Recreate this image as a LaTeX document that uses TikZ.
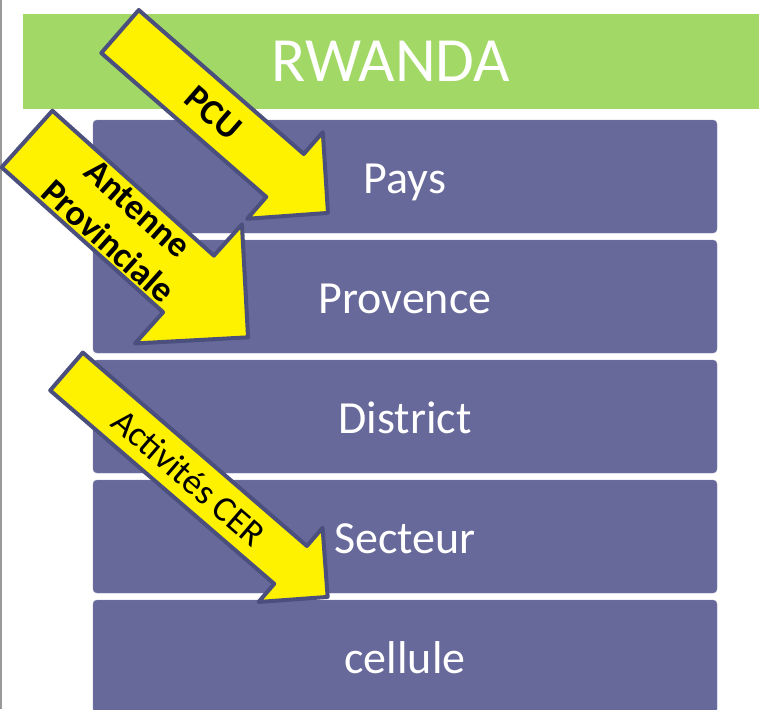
\documentclass[tikz,border=0pt]{standalone}
\usepackage{fontspec}
\setmainfont{Carlito}
\definecolor{bannergreen}{HTML}{A2D866}
\definecolor{levelblue}{HTML}{66699A}
\definecolor{arrowedge}{HTML}{4B4F7D}
\tikzset{
  level/.style={fill=levelblue, draw=levelblue!85!white, rounded corners=4pt,
    minimum width=624pt, minimum height=113pt, text=white,
    text height=34pt, text depth=0pt,
    font=\fontsize{46}{50}\selectfont},
  blockarrow/.style={fill=yellow, draw=arrowedge, line width=4pt, line join=round},
  arrowtext/.style={transform shape, align=center, font=\fontsize{36}{44}\selectfont}
}
\begin{document}
\begin{tikzpicture}[x=1pt, y=-1pt]
    \useasboundingbox (0,0) rectangle (759,709);
    \clip (0,0) rectangle (759,709);
    \draw[gray!80, line width=1.5pt] (1,0) -- (1,709);

    % Banner
    \node[fill=bannergreen, minimum width=736pt, minimum height=95pt, text=white,
      font=\fontsize{63}{66}\selectfont] (rwanda) at (391,61.5) {RWANDA};

    % Levels
    \node[level] (pays) at (405,176.5) {Pays};
    \node[level] (provence) at (405,296.5) {Provence};
    \node[level] (district) at (405,416.5) {District};
    \node[level] (secteur) at (405,536.5) {Secteur};
    \node[level] (cellule) at (405,656.5) {cellule};

    % PCU arrow
    \begin{scope}[shift={(120,31.5)}, rotate=-41.1]
      \draw[blockarrow] (0,-28.5) -- (219,-28.5) -- (219,-57.5) -- (276,0)
        -- (219,57.5) -- (219,28.5) -- (0,28.5) -- cycle;
      \node[arrowtext, font=\fontsize{36}{44}\selectfont\bfseries] (pcu) at (124,0) {PCU};
    \end{scope}

    % Antenne arrow
    \begin{scope}[shift={(27,139)}, rotate=-41.9]
      \draw[blockarrow] (0,-38) -- (217,-38) -- (217,-80) -- (297,0)
        -- (217,80) -- (217,38) -- (0,38) -- cycle;
      \node[arrowtext, font=\fontsize{36}{44}\selectfont\bfseries] (antenne) at (129,0) {Antenne\\Provinciale};
    \end{scope}

    % CER arrow
    \begin{scope}[shift={(66.5,371.5)}, rotate=-40.8]
      \draw[blockarrow] (0,-25) -- (296,-25) -- (296,-49) -- (345,0)
        -- (296,49) -- (296,25) -- (0,25) -- cycle;
      \node[arrowtext] (cer) at (162,0) {Activités CER};
    \end{scope}

\end{tikzpicture}
\end{document}
